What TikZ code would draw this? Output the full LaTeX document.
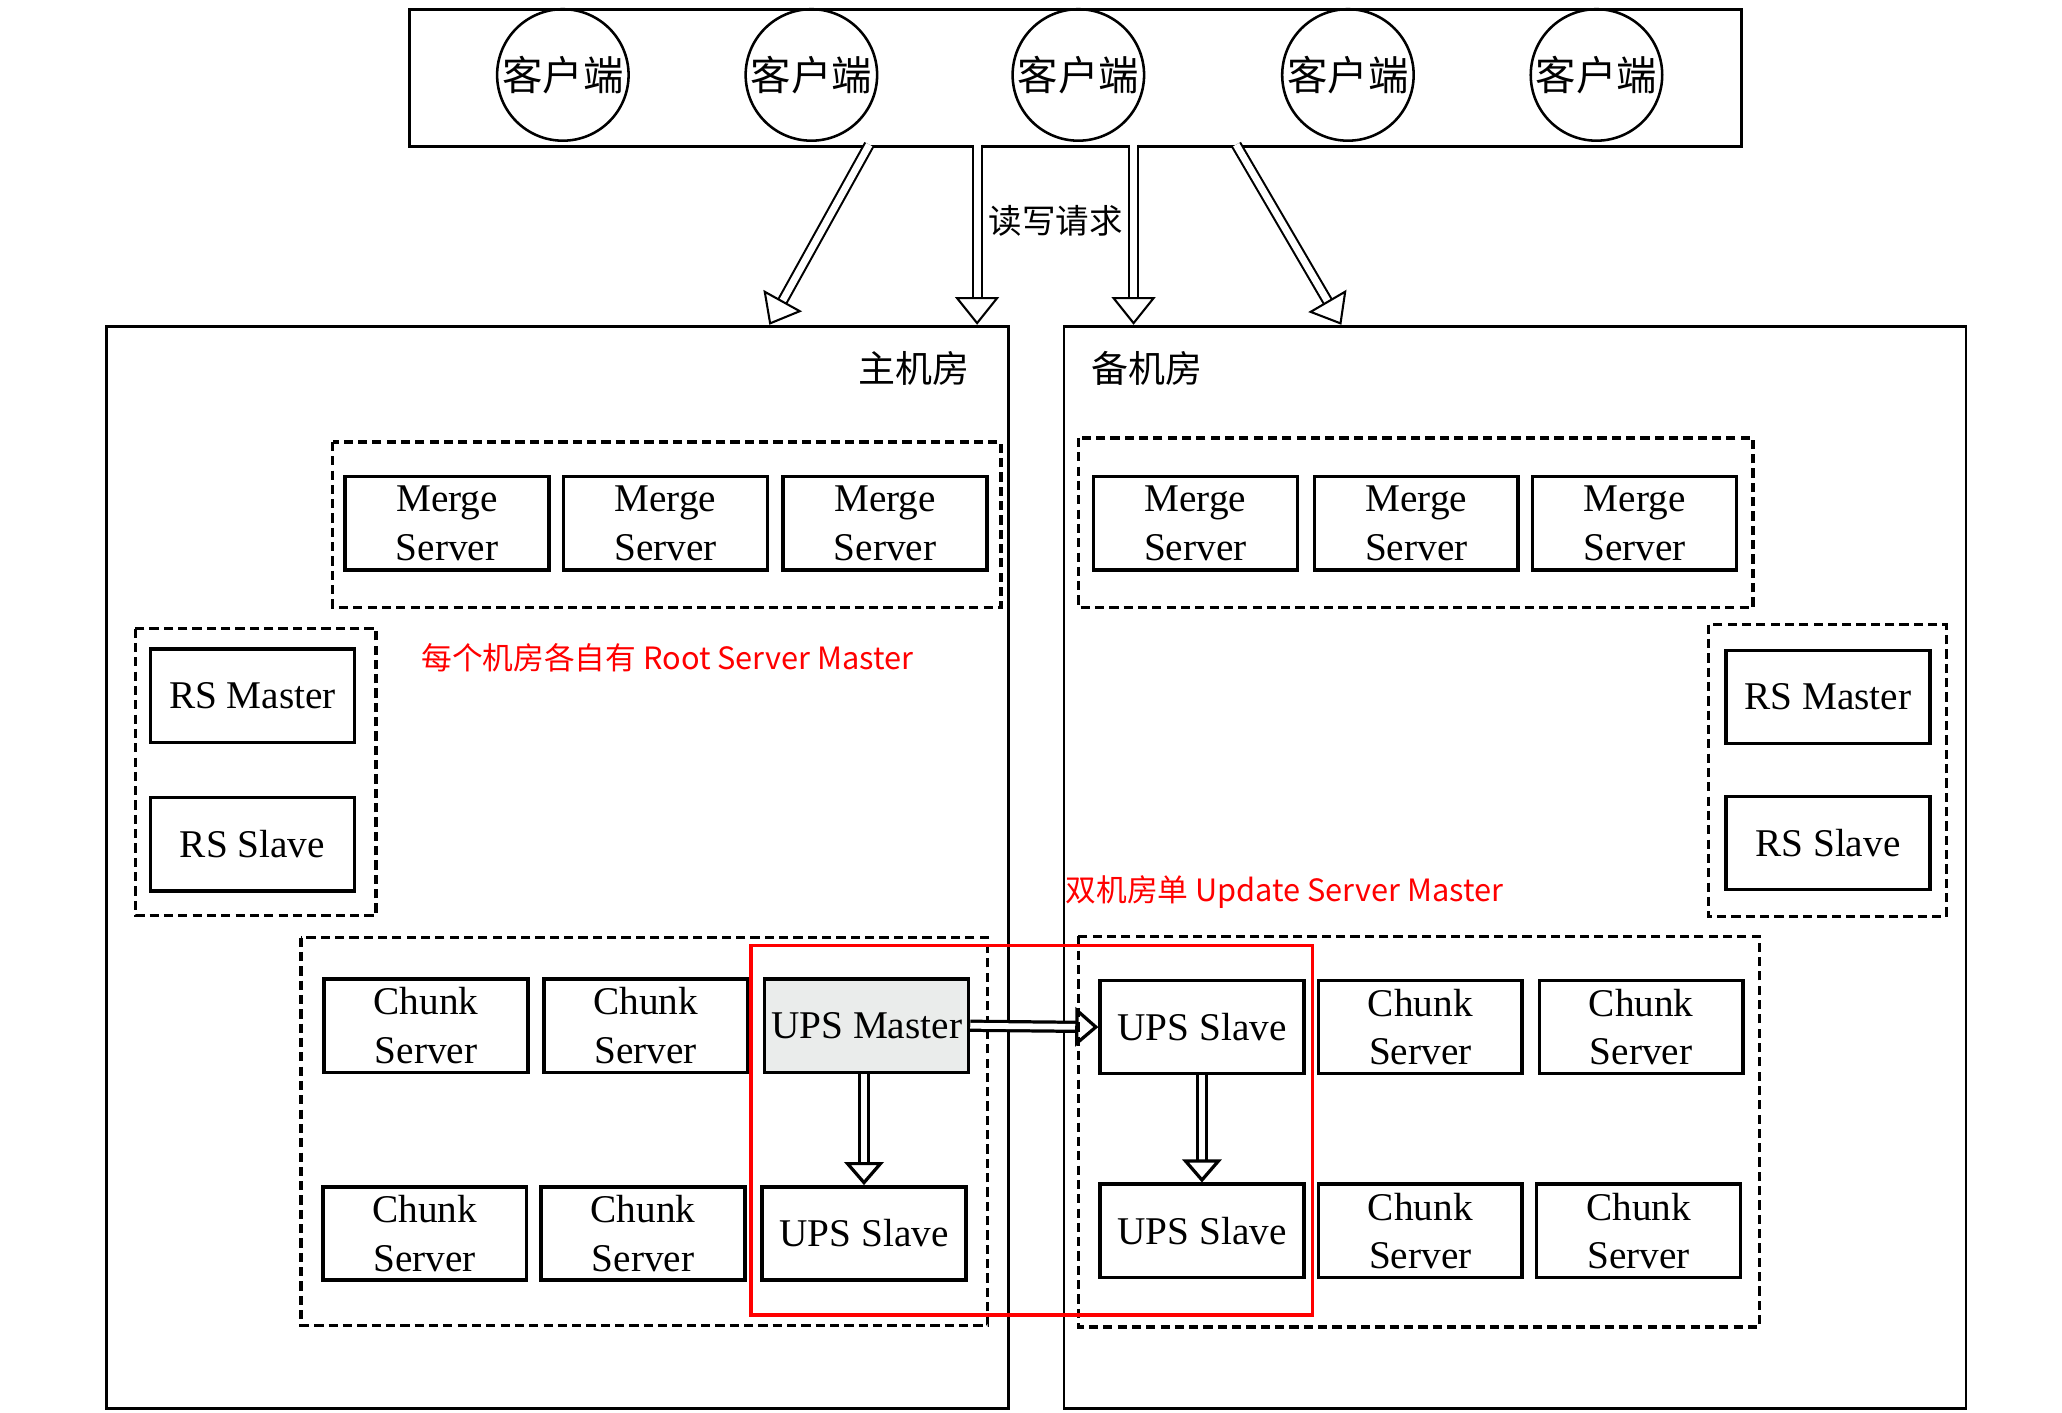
\documentclass[tikz,border=0pt]{standalone}
\usepackage{fontspec}
\setmainfont{Liberation Serif}
\newfontfamily\cjk{Noto Sans CJK SC}
\usetikzlibrary{arrows.meta,positioning}
\definecolor{upsgray}{RGB}{234,236,235}
\begin{document}
\begin{tikzpicture}[
	x=0.02cm, y=-0.02cm,
	server/.style={ draw, line width=1.5pt, minimum width=3.1cm, minimum height=1.42cm, inner sep=0pt, align=center, font=\fontsize{17}{21}\selectfont },
	group/.style={ draw, line width=1.5pt, dash pattern=on 4pt off 2.2pt },
	room/.style={ draw, line width=1.2pt, minimum width=13.72cm, minimum height=16.46cm, inner sep=0pt, anchor=north west },
	client/.style={ circle, draw, line width=1.1pt, minimum size=2cm, inner sep=0pt, font=\cjk\fontsize{17.5}{20}\selectfont },
	req/.style={ double, double distance=3pt, line width=0.9pt, -{Triangle[open, length=12pt, width=19pt]} },
	ups/.style={ double, double distance=2.5pt, line width=1.4pt, -{Triangle[open, length=10pt, width=17pt]} },
	note/.style={ text=red, anchor=west, inner sep=0pt, font=\cjk\fontsize{13.3}{15}\selectfont }
]
\useasboundingbox (0,0) rectangle (1568,1074);

\node at (310,6) (bar) [draw, line width=1.3pt, minimum width=20.26cm, minimum height=2.08cm, inner sep=0pt, anchor=north west] {};
\foreach \x [count=\i] in {428,617,820,1025,1214}
	\node at (\x,57) (c\i) [client] {客户端};

\node at (80,247) (main) [room] {};
\node at (808,247) (backup) [room] {};
\node at (695,280) (mainlbl) [font=\cjk\fontsize{16}{18}\selectfont] {主机房};
\node at (872,280) (backuplbl) [font=\cjk\fontsize{16}{18}\selectfont] {备机房};

\coordinate (q1) at (661,110);
\coordinate (q2) at (743,110);
\coordinate (q3) at (862,110);
\coordinate (q4) at (940,110);
\coordinate (p1) at (585,247);
\coordinate (p2) at (743,247);
\coordinate (p3) at (862,247);
\coordinate (p4) at (1020,247);
\draw[req] (q1) -- (p1);
\draw[req] (q2) -- (p2);
\draw[req] (q3) -- (p3);
\draw[req] (q4) -- (p4);
\node at (803,168) (rw) [font=\cjk\fontsize{14.5}{16}\selectfont] {读写请求};

\draw[group] (253,336) rectangle (761,462);
\foreach \x [count=\i] in {340,506,673}
	\node at (\x,398) (lm\i) [server] {Merge\\Server};
\draw[group] (820,333) rectangle (1333,462);
\foreach \x [count=\i] in {909,1077,1243}
	\node at (\x,398) (rm\i) [server] {Merge\\Server};

\draw[group] (103,478) rectangle (286,696);
\node at (192,529) (lrsm) [server] {RS Master};
\node at (192,642) (lrss) [server] {RS Slave};
\draw[group] (1299,475) rectangle (1480,697);
\node at (1390,530) (rrsm) [server] {RS Master};
\node at (1390,641) (rrss) [server] {RS Slave};

\node at (320,500) (note1) [note] {每个机房各自有 Root Server Master};
\node at (810,678) (note2) [note] {双机房单 Update Server Master};

\draw[group] (229,713) rectangle (751,1008);
\node at (324,780) (lc1) [server] {Chunk\\Server};
\node at (491,780) (lc2) [server] {Chunk\\Server};
\node at (659,780) (lupsm) [server, fill=upsgray] {UPS Master};
\node at (323,938) (lc3) [server] {Chunk\\Server};
\node at (489,938) (lc4) [server] {Chunk\\Server};
\node at (657,938) (lupss) [server] {UPS Slave};

\draw[group] (820,712) rectangle (1338,1009);
\node at (914,781) (rups1) [server] {UPS Slave};
\node at (1080,781) (rc1) [server] {Chunk\\Server};
\node at (1248,781) (rc2) [server] {Chunk\\Server};
\node at (914,936) (rups2) [server] {UPS Slave};
\node at (1080,936) (rc3) [server] {Chunk\\Server};
\node at (1246,936) (rc4) [server] {Chunk\\Server};

\draw[ups] (lupsm.east) -- (rups1.west);
\draw[ups] (lupss.north |- lupsm.south) -- (lupss.north);
\draw[ups] (rups1.south) -- (rups2.north);

\draw[red, line width=1.4pt] (571,719) rectangle (998,1000);

\end{tikzpicture}
\end{document}
